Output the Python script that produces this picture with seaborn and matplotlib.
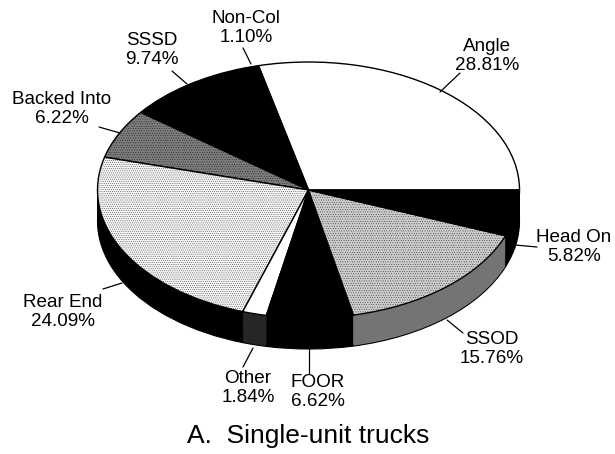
import matplotlib
matplotlib.use('Agg')
import matplotlib.pyplot as plt
import seaborn as sns

# Crash type shares, counter clockwise from the right hand side
categories = ['Angle', 'Non-Col', 'SSSD', 'Backed Into', 'Rear End', 'Other', 'FOOR', 'SSOD', 'Head On']
shares = [28.81, 1.10, 9.74, 6.22, 24.09, 1.84, 6.62, 15.76, 5.82]
top_colors = ['white', 'black', 'black', '#7c7c7c', '#f4f4f4', 'white', 'black', '#cccccc', 'black']
side_colors = ['black', 'black', 'black', 'black', 'black', '#262626', 'black', '#747474', 'black']
top_hatch = [None, None, None, '.......', '........', None, None, '.......', None]
title = 'A.  Single-unit trucks'

sns.set_theme(style='white')
plt.rcParams['font.family'] = ['Liberation Sans', 'DejaVu Sans']
plt.rcParams['hatch.linewidth'] = 0.2

W, H = 615, 454
CX, CY, RX, RY = 308.5, 190, 211, 128
DEPTH = 31 / RY


def to_data(px, py):
    return (px - CX) / RX, (CY - py) / RY


fig = plt.figure(figsize=(6.15, 4.54), dpi=100)
ax = fig.add_axes([0, 0, 1, 1])

# Side wall: the same pie stacked downwards
steps = 30
for i in range(steps, -1, -1):
    ax.pie(shares, colors=side_colors, radius=1, center=(0, -DEPTH * i / steps), counterclock=True,
           startangle=0, frame=True, wedgeprops={'linewidth': 0.8 if i == steps else 0, 'edgecolor': 'black'})

# Top face
wedges, _ = ax.pie(shares, colors=top_colors, radius=1, center=(0, 0), startangle=0, frame=True,
                   wedgeprops={'linewidth': 1.0, 'edgecolor': 'black'})
for wedge, h in zip(wedges, top_hatch):
    if h:
        wedge.set_hatch(h)

ax.set_aspect('auto')
ax.set_xlim(to_data(0, 0)[0], to_data(W, 0)[0])
ax.set_ylim(to_data(0, H)[1], to_data(0, 0)[1])
ax.axis('off')

# Label text centre and leader line ends, in pixels of the picture
placement = {
    'Angle': ((487, 56), (460, 73), (440, 92)),
    'Non-Col': ((246, 28), (243, 48), (251, 64)),
    'SSSD': ((152, 50), (172, 71), (187, 84)),
    'Backed Into': ((62, 109), (99, 127), (120, 133)),
    'Rear End': ((63, 312), (103, 289), (122, 283)),
    'Other': ((248, 388), (243, 367), (253, 348)),
    'FOOR': ((318, 392), (309, 373), (309, 349)),
    'SSOD': ((492, 349), (463, 333), (447, 320)),
    'Head On': ((574, 247), (537, 247), (515, 245)),
}
for name, share in zip(categories, shares):
    text_pos, start, end = placement[name]
    ax.text(*to_data(*text_pos), f'{name}\n{share:.2f}%', ha='center', va='center', fontsize=13.6,
            linespacing=1.1, color='black')
    ax.plot(*zip(to_data(*start), to_data(*end)), color='black', lw=0.9)

ax.text(*to_data(308, 436), title, ha='center', va='center', fontsize=19, color='black')

fig.savefig('out.png', dpi=100)
